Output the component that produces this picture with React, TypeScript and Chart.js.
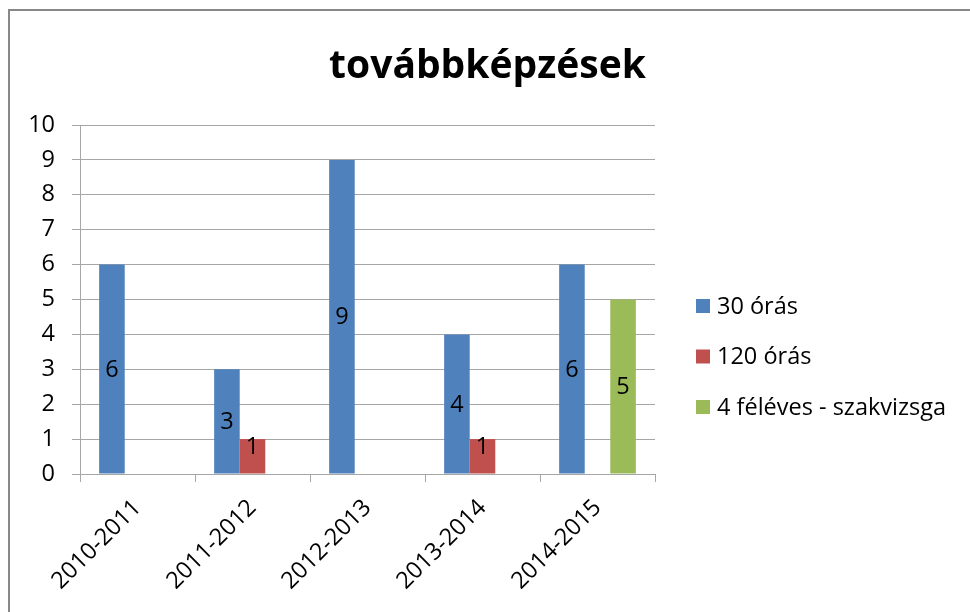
import React, { useEffect, useRef } from "react";
import { Chart, registerables } from "chart.js";

Chart.register(...registerables);

const TITLE = "továbbképzések";
const categories = ["2010-2011", "2011-2012", "2012-2013", "2013-2014", "2014-2015"];
const seriesNames = ["30 órás", "120 órás", "4 féléves - szakvizsga"];
const s30 = [6, 3, 9, 4, 6];
const s120 = [0, 1, 0, 1, 0];
const s4 = [0, 0, 0, 0, 5];
const colors = ["#4F81BD", "#C0504D", "#9BBB59"];
const yTicks = [0, 1, 2, 3, 4, 5, 6, 7, 8, 9, 10];

const FONT = "'Open Sans', 'DejaVu Sans', sans-serif";
const GRID = "#a6a6a6";
const FS = 23.5;

const framePlugin = {
  id: "frame",
  beforeDraw(chart: any) {
    const { ctx, width, height } = chart;
    ctx.save();
    ctx.fillStyle = "#ffffff";
    ctx.fillRect(0, 0, width, height);
    ctx.strokeStyle = "#888888";
    ctx.lineWidth = 2;
    ctx.beginPath();
    ctx.moveTo(9, height + 2);
    ctx.lineTo(9, 10);
    ctx.lineTo(width + 2, 10);
    ctx.stroke();
    // title
    ctx.fillStyle = "#000";
    ctx.font = `bold 39px ${FONT}`;
    ctx.textAlign = "center";
    ctx.textBaseline = "alphabetic";
    ctx.fillText(TITLE, 487.5, 78);
    ctx.restore();
  },
};

const labelsPlugin = {
  id: "barLabels",
  afterDatasetsDraw(chart: any) {
    const { ctx } = chart;
    ctx.save();
    ctx.fillStyle = "#000";
    ctx.font = `${FS}px ${FONT}`;
    ctx.textAlign = "center";
    ctx.textBaseline = "middle";
    chart.data.datasets.forEach((ds: any, i: number) => {
      const meta = chart.getDatasetMeta(i);
      meta.data.forEach((bar: any, j: number) => {
        const v = ds.data[j];
        if (!v) return;
        const mid = (bar.y + bar.base) / 2;
        const y = Math.min(mid, bar.base - 27);
        ctx.fillText(String(v), bar.x, y + 1);
      });
    });
    ctx.restore();
  },
};

const legendPlugin = {
  id: "customLegend",
  afterDraw(chart: any) {
    const { ctx, chartArea } = chart;
    ctx.save();
    ctx.font = `${FS}px ${FONT}`;
    ctx.textAlign = "left";
    ctx.textBaseline = "middle";
    chart.data.datasets.forEach((ds: any, i: number) => {
      const cy = 306 + i * 50.5;
      const x0 = chartArea.right + 41;
      ctx.fillStyle = ds.backgroundColor;
      ctx.fillRect(x0, cy - 7, 14, 14);
      ctx.fillStyle = "#000";
      ctx.fillText(ds.label, x0 + 21, cy + 1);
    });
    ctx.restore();
  },
};

export default function App() {
  const ref = useRef<HTMLCanvasElement>(null);
  useEffect(() => {
    if (!ref.current) return;
    const chart = new Chart(ref.current, {
      type: "bar",
      data: {
        labels: categories,
        datasets: [
          { label: seriesNames[0], data: s30, backgroundColor: colors[0] },
          { label: seriesNames[1], data: s120, backgroundColor: colors[1] },
          { label: seriesNames[2], data: s4, backgroundColor: colors[2] },
        ],
      },
      options: {
        animation: false,
        responsive: false,
        devicePixelRatio: 1,
        layout: { padding: { left: 0, top: 125, right: 315, bottom: 0 } },
        plugins: {
          legend: { display: false },
          title: { display: false },
          tooltip: { enabled: false },
        },
        datasets: {
          bar: { categoryPercentage: 0.667, barPercentage: 1, borderWidth: 0 },
        },
        scales: {
          x: {
            type: "category",
            offset: true,
            grid: {
              display: true,
              drawOnChartArea: false,
              drawTicks: true,
              tickLength: 8,
              color: GRID,
              offset: true,
            },
            border: { display: true, color: GRID, width: 1 },
            ticks: {
              maxRotation: 45,
              minRotation: 45,
              autoSkip: false,
              font: { family: FONT, size: FS },
              color: "#000",
              padding: 12,
            },
            afterFit: (s: any) => {
              s.height = 612 - 474;
            },
          },
          y: {
            min: 0,
            max: 10,
            afterBuildTicks: (s: any) => {
              s.ticks = yTicks.map((v) => ({ value: v }));
            },
            grid: { color: GRID, tickLength: 8, drawTicks: true },
            border: { display: true, color: GRID, width: 1 },
            ticks: {
              font: { family: FONT, size: FS },
              color: "#000",
              padding: 17,
            },
            afterFit: (s: any) => {
              s.width = 80;
            },
          },
        },
      },
      plugins: [framePlugin, labelsPlugin, legendPlugin],
    });
    return () => chart.destroy();
  }, []);
  return (
    <div style={{ position: "absolute", left: 0, top: 0, width: 970, height: 612 }}>
      <canvas ref={ref} width={970} height={612} style={{ width: 970, height: 612, display: "block" }} />
    </div>
  );
}
